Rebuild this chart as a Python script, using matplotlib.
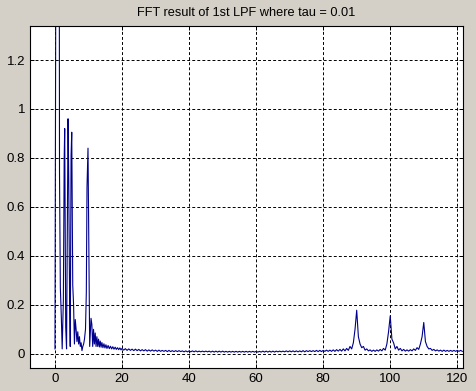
import numpy as np
import matplotlib
matplotlib.use("Agg")
import matplotlib.pyplot as plt

plt.rcParams['font.family'] = ['Liberation Sans', 'DejaVu Sans']

title = "FFT result of 1st LPF where tau = 0.01"

# low-frequency part (uneven spacing)
freq_low = [0.0, 0.3, 0.65, 1.0, 1.3, 1.35, 1.6, 1.9, 2.15, 2.5,
            2.75, 2.9, 3.2, 3.45, 3.7, 3.9, 4.1, 4.35, 4.55, 4.8,
            5.0, 5.3, 5.55, 5.8, 6.05, 6.3, 6.55, 6.8, 7.05, 7.3,
            7.55, 7.8, 8.05, 8.3, 8.55, 8.8, 9.1, 9.35, 9.55, 9.85,
            10.1, 10.35, 10.75, 11.0, 11.25, 11.5, 11.75, 12.0, 12.25, 12.5,
            12.75, 13.0, 13.25, 13.5, 13.75, 14.0, 14.3, 14.6, 14.9, 15.2,
            15.5, 15.85, 16.2, 16.55, 16.9, 17.25, 17.6, 17.95, 18.3, 18.65,
            19.0, 19.35, 19.7]
amp_low = [0.02, 1.9, 2.4, 1.9, 1.45, 0.74, 0.27, 0.147, 0.02, 0.22,
           0.80, 0.92, 0.11, 0.02, 0.55, 0.96, 0.715, 0.25, 0.03, 0.81,
           0.905, 0.28, 0.20, 0.04, 0.14, 0.10, 0.05, 0.09, 0.04, 0.07,
           0.03, 0.045, 0.013, 0.03, 0.04, 0.06, 0.10, 0.25, 0.68, 0.84,
           0.45, 0.03, 0.145, 0.12, 0.03, 0.10, 0.04, 0.085, 0.03, 0.07,
           0.03, 0.06, 0.028, 0.052, 0.027, 0.046, 0.025, 0.041, 0.024, 0.037,
           0.022, 0.034, 0.021, 0.031, 0.02, 0.029, 0.019, 0.027, 0.018, 0.025,
           0.017, 0.024, 0.016]

# rest of the spectrum, every 0.5 from 20 up to 121.5
tail_start = 20.0
tail_step = 0.5
amp_tail = [
    0.022, 0.015, 0.021, 0.014, 0.020, 0.014, 0.019, 0.013, 0.019, 0.013,
    0.018, 0.012, 0.017, 0.012, 0.017, 0.011, 0.016, 0.011, 0.016, 0.011,
    0.015, 0.010, 0.015, 0.010, 0.014, 0.010, 0.014, 0.009, 0.014, 0.009,
    0.013, 0.009, 0.013, 0.009, 0.013, 0.009, 0.012, 0.008, 0.012, 0.008,
    0.012, 0.008, 0.012, 0.008, 0.012, 0.008, 0.011, 0.008, 0.011, 0.008,
    0.011, 0.008, 0.011, 0.007, 0.011, 0.007, 0.011, 0.007, 0.011, 0.007,
    0.011, 0.007, 0.010, 0.007, 0.010, 0.007, 0.010, 0.007, 0.010, 0.007,
    0.010, 0.007, 0.010, 0.007, 0.010, 0.007, 0.010, 0.007, 0.010, 0.007,
    0.010, 0.007, 0.010, 0.007, 0.011, 0.007, 0.011, 0.007, 0.011, 0.007,
    0.011, 0.007, 0.011, 0.008, 0.011, 0.008, 0.011, 0.008, 0.012, 0.008,
    0.012, 0.008, 0.012, 0.008, 0.012, 0.008, 0.012, 0.008, 0.013, 0.008,
    0.013, 0.009, 0.013, 0.009, 0.013, 0.009, 0.014, 0.009, 0.014, 0.009,
    0.014, 0.010, 0.015, 0.010, 0.015, 0.010, 0.016, 0.010, 0.017, 0.011,
    0.018, 0.011, 0.020, 0.012, 0.022, 0.014, 0.030, 0.020, 0.045, 0.100,
    0.178, 0.070, 0.040, 0.025, 0.030, 0.015, 0.020, 0.012, 0.016, 0.010,
    0.015, 0.010, 0.016, 0.011, 0.018, 0.012, 0.022, 0.015, 0.040, 0.090,
    0.155, 0.060, 0.045, 0.020, 0.030, 0.015, 0.022, 0.012, 0.018, 0.011,
    0.016, 0.011, 0.017, 0.012, 0.020, 0.014, 0.025, 0.018, 0.040, 0.070,
    0.128, 0.050, 0.030, 0.020, 0.022, 0.014, 0.018, 0.012, 0.016, 0.011,
    0.015, 0.010, 0.015, 0.010, 0.014, 0.010, 0.014, 0.010, 0.014, 0.010,
    0.014, 0.010, 0.014, 0.010,
]
freq_tail = tail_start + tail_step * np.arange(len(amp_tail))

freq = np.concatenate([freq_low, freq_tail])
amp = np.concatenate([amp_low, amp_tail])

xticks = [0, 20, 40, 60, 80, 100, 120]
yticks = [0, 0.2, 0.4, 0.6, 0.8, 1.0, 1.2]
ytick_labels = ["0", "0.2", "0.4", "0.6", "0.8", "1", "1.2"]

fig = plt.figure(figsize=(4.77, 3.91), dpi=100, facecolor="#d4d0c8")
ax = fig.add_axes([0.0629, 0.0588, 0.9077, 0.8747])
ax.plot(freq, amp, color=(0.0, 0.0, 0.55), lw=0.8)

ax.set_xlim(-7.45, 121.7)
ax.set_ylim(-0.058, 1.339)
ax.set_xticks(xticks)
ax.set_yticks(yticks)
ax.set_yticklabels(ytick_labels)
ax.tick_params(direction="in", length=3, width=0.7, labelsize=9.5,
               top=True, right=True, colors="black")
ax.grid(True, color="black", linestyle=(0, (3, 2.2)), linewidth=0.7)
for s in ax.spines.values():
    s.set_linewidth(0.8)
ax.set_title(title, fontsize=9.2, pad=7)

fig.savefig("out.png", dpi=100, facecolor=fig.get_facecolor())
